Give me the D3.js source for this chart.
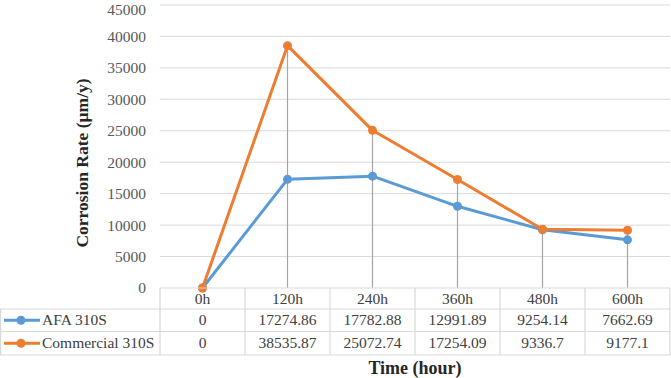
<!DOCTYPE html>
<html><head><meta charset="utf-8">
<script src="https://cdn.jsdelivr.net/npm/d3@7"></script>
<style>body{margin:0;background:#fff}svg{display:block}</style>
</head><body>
<svg id="c" width="671" height="378"></svg>
<script>
const categories = ["0h","120h","240h","360h","480h","600h"];
const afa = [0,17274.86,17782.88,12991.89,9254.14,7662.69];
const commercial = [0,38535.87,25072.74,17254.09,9336.7,9177.1];
const afaLabels = ["0","17274.86","17782.88","12991.89","9254.14","7662.69"];
const comLabels = ["0","38535.87","25072.74","17254.09","9336.7","9177.1"];
const seriesNames = ["AFA 310S","Commercial 310S"];
const yTicks = [0,5000,10000,15000,20000,25000,30000,35000,40000,45000];

const svg = d3.select("#c");
const font = "'Liberation Serif','Times New Roman',serif";
const L = 160, R = 670, T = 5, B = 288;
const x = d3.scaleBand().domain(categories).range([L,R]);
const y = d3.scaleLinear().domain([0,45000]).range([B,T]);
const colors = ["#5B9BD5","#ED7D31"];
const grid = "#d9d9d9";

svg.append("g").selectAll("line").data(yTicks.filter(d=>d>0)).join("line")
  .attr("x1",L).attr("x2",R).attr("y1",d=>y(d)).attr("y2",d=>y(d))
  .attr("stroke",grid).attr("stroke-width",1);

const yAxis = d3.axisLeft(y).tickValues(yTicks).tickSize(0).tickPadding(14).tickFormat(d3.format("d"));
const ya = svg.append("g").attr("transform",`translate(${L},0)`).call(yAxis);
ya.select(".domain").remove();
ya.selectAll("text").attr("font-family",font).attr("font-size",15.5).attr("fill","#595959");
ya.selectAll(".tick").filter(d=>d===45000).select("text").attr("dy","0.62em");

svg.append("g").selectAll("line").data(categories).join("line")
  .attr("x1",d=>x(d)+x.bandwidth()/2).attr("x2",d=>x(d)+x.bandwidth()/2)
  .attr("y1",(d,i)=>y(Math.max(afa[i],commercial[i]))).attr("y2",B)
  .attr("stroke","#a6a6a6").attr("stroke-width",1.2);

const data = [afa, commercial];
const line = d3.line().x((d,i)=>x(categories[i])+x.bandwidth()/2).y(d=>y(d));
data.forEach((s,k)=>{
  svg.append("path").datum(s).attr("d",line).attr("fill","none")
    .attr("stroke",colors[k]).attr("stroke-width",3).attr("stroke-linejoin","round");
  svg.append("g").selectAll("circle").data(s).join("circle")
    .attr("cx",(d,i)=>x(categories[i])+x.bandwidth()/2).attr("cy",d=>y(d)).attr("r",4.5)
    .attr("fill",colors[k]);
});

const rows = [B, 309, 331.5, 355];
const tg = svg.append("g").attr("stroke",grid).attr("stroke-width",1.2);
tg.append("line").attr("x1",L).attr("x2",R).attr("y1",rows[0]).attr("y2",rows[0]);
[1,2,3].forEach(r=>tg.append("line").attr("x1",0).attr("x2",R).attr("y1",rows[r]).attr("y2",rows[r]));
tg.append("line").attr("x1",0.6).attr("x2",0.6).attr("y1",rows[1]).attr("y2",rows[3]);
categories.forEach(c=>tg.append("line").attr("x1",x(c)).attr("x2",x(c)).attr("y1",rows[0]).attr("y2",rows[3]));
tg.append("line").attr("x1",R).attr("x2",R).attr("y1",rows[0]).attr("y2",rows[3]);

const txt = svg.append("g").attr("font-family",font).attr("font-size",15.5).attr("fill","#404040").attr("text-anchor","middle");
categories.forEach((c,i)=>{
  const cx = x(c)+x.bandwidth()/2;
  txt.append("text").attr("x",cx).attr("y",(rows[0]+rows[1])/2+5).text(c);
  txt.append("text").attr("x",cx).attr("y",(rows[1]+rows[2])/2+5).text(afaLabels[i]);
  txt.append("text").attr("x",cx).attr("y",(rows[2]+rows[3])/2+5).text(comLabels[i]);
});
seriesNames.forEach((n,k)=>{
  const cy = (rows[k+1]+rows[k+2])/2;
  svg.append("line").attr("x1",4).attr("x2",40).attr("y1",cy).attr("y2",cy).attr("stroke",colors[k]).attr("stroke-width",3);
  svg.append("circle").attr("cx",21).attr("cy",cy).attr("r",4.5).attr("fill",colors[k]);
  svg.append("text").attr("x",42).attr("y",cy+5).attr("font-family",font).attr("font-size",15.5).attr("fill","#404040").text(n);
});

svg.append("text").attr("x",415).attr("y",374).attr("text-anchor","middle")
  .attr("font-family",font).attr("font-size",18).attr("font-weight","bold").attr("fill","#262626").text("Time (hour)");
svg.append("text").attr("transform","translate(88,163) rotate(-90)").attr("text-anchor","middle")
  .attr("font-family",font).attr("font-size",17.5).attr("font-weight","bold").attr("fill","#262626").text("Corrosion Rate (µm/y)");
</script>
</body></html>
